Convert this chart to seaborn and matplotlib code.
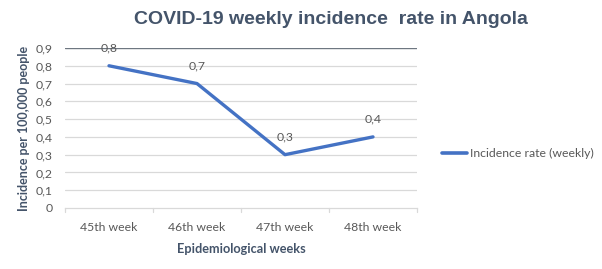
import matplotlib
matplotlib.use("Agg")
import matplotlib.pyplot as plt
import seaborn as sns
import pandas as pd
from matplotlib.ticker import FuncFormatter

weeks = ["45th week", "46th week", "47th week", "48th week"]
incidence = [0.8, 0.7, 0.3, 0.4]
yTicks = [0.0, 0.1, 0.2, 0.3, 0.4, 0.5, 0.6, 0.7, 0.8, 0.9]
seriesName = "Incidence rate (weekly)"

sns.set_theme(style="white")
plt.rcParams["font.family"] = ["Lato", "DejaVu Sans"]

df = pd.DataFrame({"week": weeks, "rate": incidence, "series": seriesName})

fig = plt.figure(figsize=(6.02, 2.69), dpi=100)
ax = fig.add_axes([65 / 602, 1 - 208 / 269, 352 / 602, 160 / 269])

lineBlue = "#4472C4"
textGrey = "#595959"
darkSlate = "#44546A"

sns.lineplot(data=df, x="week", y="rate", hue="series", palette=[lineBlue],
             linewidth=2.4, sort=False, ax=ax, legend=True)

ax.set_xlim(-0.5, len(weeks) - 0.5)
ax.set_ylim(0, 0.9)
ax.set_yticks(yTicks)
ax.yaxis.set_major_formatter(FuncFormatter(lambda v, _: "0" if v == 0 else f"{v:.1f}".replace(".", ",")))
ax.tick_params(axis="y", length=0, labelsize=8.8, labelcolor=textGrey, pad=9)
ax.tick_params(axis="x", length=0, labelsize=8.8, labelcolor=textGrey, pad=10)

# gridlines
for v in yTicks[1:-1]:
    ax.axhline(v, color="#D9D9D9", linewidth=0.9, zorder=0)
ax.axhline(0.9, color="#6E7781", linewidth=1.0, zorder=1)

for s in ["left", "right", "top"]:
    ax.spines[s].set_visible(False)
ax.spines["bottom"].set_color("#D9D9D9")
ax.spines["bottom"].set_linewidth(0.9)

# category boundary tick marks
for b in [i - 0.5 for i in range(len(weeks) + 1)]:
    ax.plot([b, b], [0, -0.02], color="#D9D9D9", linewidth=0.9, clip_on=False)

for i, v in enumerate(incidence):
    ax.annotate(f"{v:.1f}".replace(".", ","), (i, v), xytext=(0, 13), textcoords="offset points",
                ha="center", va="center", fontsize=8.8, color=textGrey)

ax.set_xlabel("Epidemiological weeks", fontsize=9.2, fontweight="bold", color=darkSlate, labelpad=7)
ax.set_ylabel("Incidence per 100,000 people", fontsize=9, fontweight="bold", color=darkSlate, labelpad=4)

fig.text(331 / 602, 1 - 20 / 269, "COVID-19 weekly incidence  rate in Angola", ha="center", va="center",
         fontsize=14, fontweight="bold", color=darkSlate, family=["Liberation Sans", "DejaVu Sans"])

leg = ax.legend(loc="center left", bbox_to_anchor=(1.04, 0.34), frameon=False, fontsize=8.8,
                handlelength=2.0, handletextpad=0.3)
for t in leg.get_texts():
    t.set_color(textGrey)
for h in leg.get_lines():
    h.set_linewidth(2.6)

fig.savefig("out.png", dpi=100)
